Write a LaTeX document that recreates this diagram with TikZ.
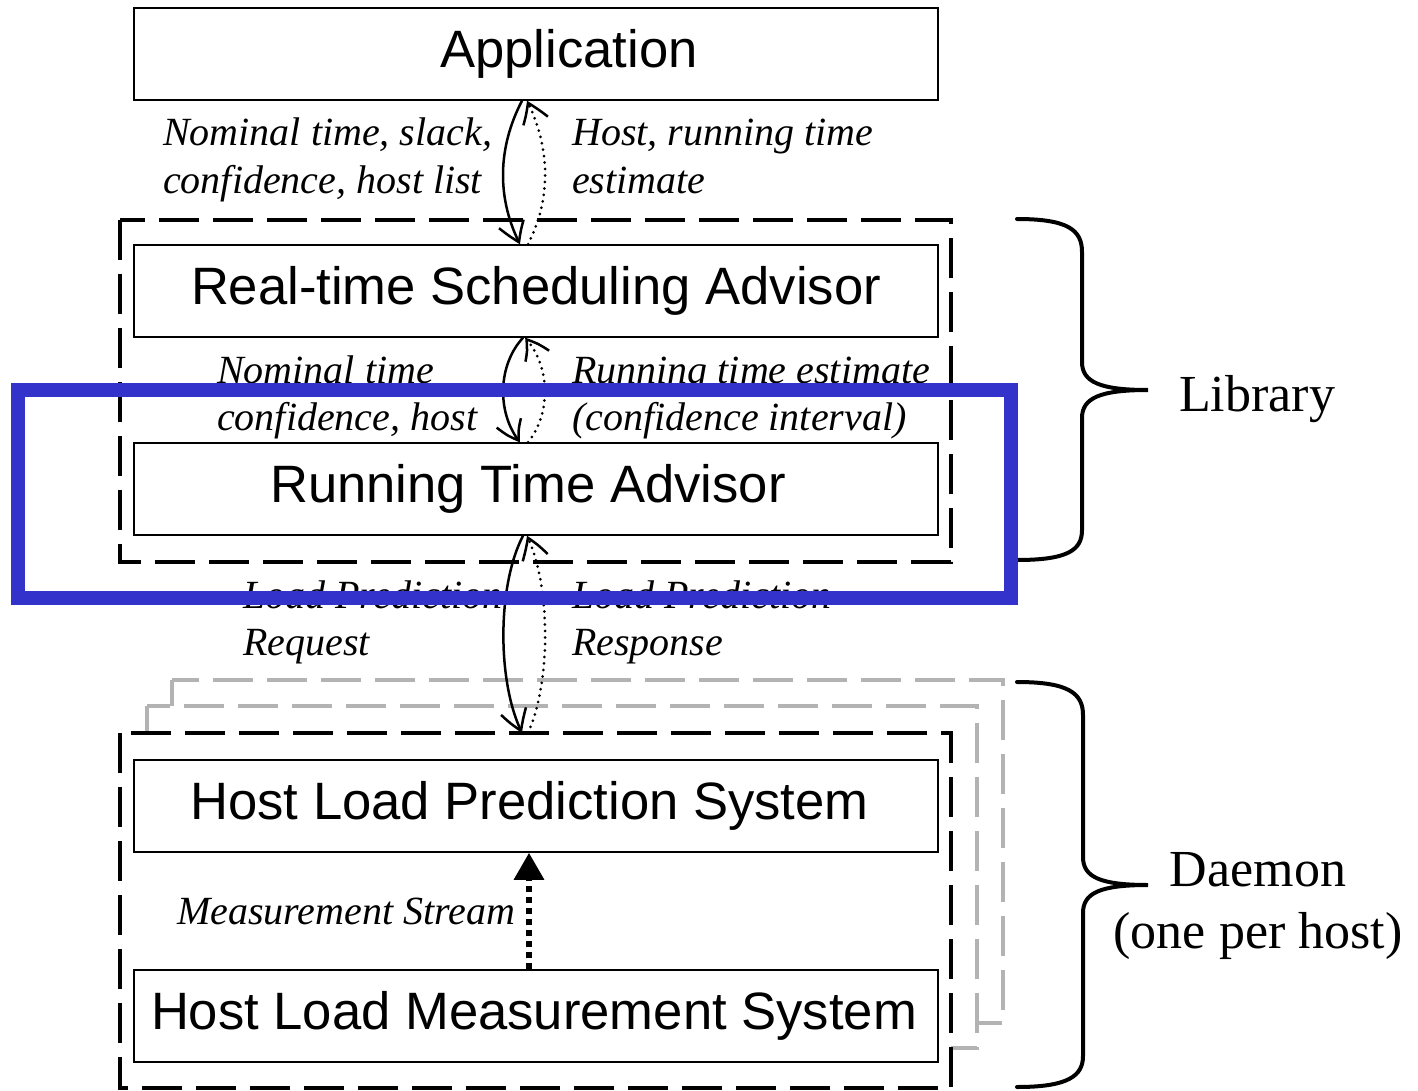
\documentclass[tikz,border=0pt]{standalone}
\usepackage{fontspec}
\setmainfont{Liberation Serif}
\setsansfont{Liberation Sans}
\usetikzlibrary{arrows.meta,bending,calc}
\definecolor{grayline}{RGB}{179,179,179}
\definecolor{blueframe}{RGB}{51,51,204}

\begin{document}
\begin{tikzpicture}[x=1pt,y=-1pt,
  box/.style={draw, line width=1.5pt, minimum width=804pt, minimum height=92pt,
    inner sep=0pt, fill=white},
  boxtext/.style={inner sep=0pt, font=\sffamily\fontsize{52.6}{60}\selectfont},
  grp/.style={inner sep=0pt},
  blackdash/.style={line width=4pt, dash pattern=on 40pt off 14pt},
  graydash/.style={line width=3.5pt, draw=grayline, dash pattern=on 40pt off 14pt},
  lbl/.style={anchor=base west, inner sep=0pt, font=\itshape\fontsize{40}{48}\selectfont},
  side/.style={anchor=base, inner sep=0pt, font=\fontsize{52}{60}\selectfont},
  req/.style={line width=2.5pt, -{Straight Barb[length=20pt,width=26pt,bend]}},
  resp/.style={line width=3pt, line cap=round, dash pattern=on 0pt off 6.5pt,
    -{Straight Barb[length=20pt,width=26pt,line width=2.5pt,bend]}},
  meas/.style={line width=6pt, dash pattern=on 6pt off 5pt,
    -{Triangle[length=27pt,width=29pt]}},
  brace/.style={line width=4pt, line cap=round},
  frame/.style={draw=blueframe, line width=14pt},
]
\useasboundingbox (0,0) rectangle (1418,1091);

% ---- library group ----
\node[grp, minimum width=831pt, minimum height=342pt] (lib) at (535.5,391) {};
\draw[blackdash] (lib.north west) -- (lib.south west) -- (lib.south east)
  -- (lib.north east) -- cycle;

% ---- daemon group: stacked copies behind the front one ----
\node[grp, minimum width=831pt, minimum height=343pt] (dmnc) at (587.5,851.5) {};
\path[graydash, fill=white] (dmnc.north west) -- (dmnc.south west) -- (dmnc.south east)
  -- (dmnc.north east) -- cycle;
\node[grp, minimum width=830pt, minimum height=342pt] (dmnb) at (562,877) {};
\path[graydash, fill=white] (dmnb.north west) -- (dmnb.south west) -- (dmnb.south east)
  -- (dmnb.north east) -- cycle;
\node[grp, minimum width=831pt, minimum height=355pt] (daemon) at (535.5,910.5) {};
\path[blackdash, draw=black, fill=white] (daemon.north west) -- (daemon.south west)
  -- (daemon.south east) -- (daemon.north east) -- cycle;

% ---- component boxes ----
\node[box] (app) at (536,54) {};
\node[boxtext] at ([xshift=33pt]app.center) {Application};
\node[box] (rtsa) at (536,291) {};
\node[boxtext] at (rtsa.center) {Real-time Scheduling Advisor};
\node[box] (rta) at (536,489) {};
\node[boxtext] at ([xshift=-8pt]rta.center) {Running Time Advisor};
\node[box] (hlps) at (536,806) {};
\node[boxtext] at ([xshift=-6.5pt]hlps.center) {Host Load Prediction System};
\node[box] (hlms) at (536,1016) {};
\node[boxtext] at ([xshift=-2pt]hlms.center) {Host Load Measurement System};

% ---- request / response pairs ----
\draw[req] ([xshift=-14pt]app.south) .. controls +(-25,48) and +(-23,-45) .. ([xshift=-16pt]rtsa.north);
\draw[resp] ([xshift=-8pt]rtsa.north) .. controls +(23,-45) and +(24,48) .. ([xshift=-9pt]app.south);

\draw[req] ([xshift=-13pt]rtsa.south) .. controls +(-26,28) and +(-23,-28) .. ([xshift=-16pt]rta.north);
\draw[resp] ([xshift=-8pt]rta.north) .. controls +(23,-28) and +(26,28) .. ([xshift=-11pt]rtsa.south);

\draw[req] ([xshift=-13pt]rta.south) .. controls +(-26,50) and +(-25,-50) .. ([xshift=-13.5pt]daemon.north);
\draw[resp] ([xshift=-7.5pt]daemon.north) .. controls +(23,-50) and +(24,50) .. ([xshift=-9pt]rta.south);

\draw[meas] ([xshift=-7pt]hlms.north) -- ([xshift=-7pt]hlps.south);

% ---- labels ----
\node[lbl] at (163,146) {Nominal time, slack,};
\node[lbl] at (163,194) {confidence, host list};
\node[lbl] at (572,146) {Host, running time};
\node[lbl] at (572,194) {estimate};
\node[lbl] at (217,383) {Nominal time};
\node[lbl] at (217,430) {confidence, host};
\node[lbl] at (572,383) {Running time estimate};
\node[lbl] at (572,430) {(confidence interval)};
\node[lbl] at (243,608) {Load Prediction};
\node[lbl] at (243,655) {Request};
\node[lbl] at (572,608) {Load Prediction};
\node[lbl] at (572,655) {Response};
\node[lbl] at (177,924) {Measurement Stream};

% ---- braces ----
\draw[brace] (1017,219) .. controls (1068,219) and (1082,230) .. (1082,252)
  -- (1082,362) .. controls (1082,382) and (1100,390) .. (1148,390)
  .. controls (1100,390) and (1082,398) .. (1082,418)
  -- (1082,530) .. controls (1082,550) and (1068,560) .. (1017,560);
\node[side] at (1257,411) {Library};

\draw[brace] (1017,682) .. controls (1068,682) and (1083,693) .. (1083,715)
  -- (1083,857) .. controls (1083,877) and (1100,885) .. (1148,885)
  .. controls (1100,885) and (1083,893) .. (1083,913)
  -- (1083,1056) .. controls (1083,1076) and (1068,1087) .. (1017,1087);
\node[side] at (1258,886) {Daemon};
\node[side] at (1258,948) {(one per host)};

% ---- highlight frame ----
\draw[frame] (18,390) rectangle (1011,598);
\end{tikzpicture}
\end{document}
